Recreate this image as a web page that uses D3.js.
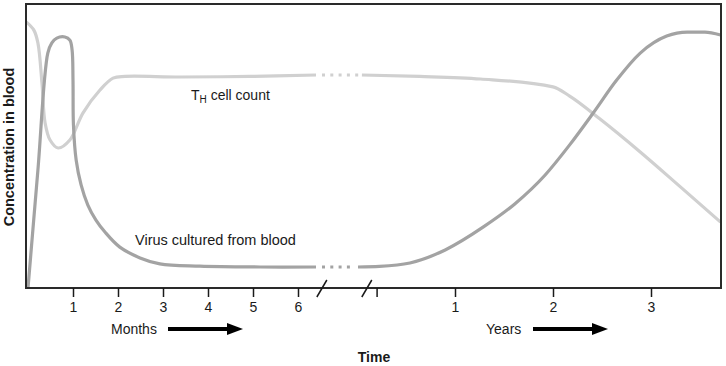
<!DOCTYPE html>
<html><head><meta charset="utf-8">
<script src="https://cdn.jsdelivr.net/npm/d3@7"></script>
<style>
html,body{margin:0;padding:0;background:#fff;}
text{font-family:"Liberation Sans",Arial,Helvetica,sans-serif;}
</style></head>
<body><svg id="chart" width="726" height="366"></svg>
<script>
// ---- data (time in months for the first segment, years for the second; concentration 0-100) ----
const monthTicks = [1, 2, 3, 4, 5, 6];
const yearTicks = [0.2, 1, 2, 3];
const yearTickLabels = ["", "1", "2", "3"];
const breakMarks = { month: 6.53, year: 0.1 };

const thMonths = [[-0.04,93.7],[0.13,90.8],[0.22,86.3],[0.31,72.2],[0.38,58.1],[0.49,52.1],[0.67,49.3],
  [0.93,52.1],[1.22,61.6],[1.6,69.7],[1.89,73.9],[2.16,74.5],[3.38,74.3],[4.93,74.5],[6.4,75]];
const thYears = [[0.05,75],[0.64,74.5],[1.26,73.6],[2.0,70.8],[2.17,67.6],[2.48,59.5],[2.89,47.9],[3.3,35.6],[3.71,23.2]];

const virusMonths = [[0,0],[0.22,41.5],[0.44,82.7],[0.53,86.3],[0.64,88.0],[0.82,88.4],[0.93,87.3],[0.98,83.8],
  [1.0,73.2],[1.01,57.4],[1.07,45.1],[1.18,36.3],[1.33,29.2],[1.51,23.9],[1.71,19.7],[2.04,14.4],[2.49,10.6],
  [2.93,8.5],[3.82,7.7],[5.16,7.4],[6.4,7.4]];
const virusYears = [[0.01,7.4],[0.23,7.6],[0.54,8.8],[0.9,13.4],[1.29,21.5],[1.61,29.6],[1.92,39.8],[2.17,50.4],
  [2.41,61.6],[2.65,73.2],[2.89,82.7],[3.16,88.7],[3.37,90.1],[3.55,90.1],[3.71,89.1]];

const labels = { th: "T", thSub: "H", thRest: " cell count", virus: "Virus cultured from blood",
  months: "Months", years: "Years", x: "Time", y: "Concentration in blood" };

// ---- layout ----
const svg = d3.select("#chart");
const P = { left: 26, top: 4, right: 721, bottom: 288 };
const xM = d3.scaleLinear().domain([0, 6]).range([28, 298]);
const xY = d3.scaleLinear().domain([1, 3]).range([455, 651]);
const y = d3.scaleLinear().domain([0, 100]).range([288, 4]);

const thColor = "#d0d0d0", virusColor = "#a3a3a3", ink = "#1a1a1a";

svg.append("defs").append("clipPath").attr("id", "clip")
  .append("rect").attr("x", P.left).attr("y", P.top).attr("width", P.right - P.left).attr("height", P.bottom - P.top);

const g = svg.append("g").attr("clip-path", "url(#clip)");
const lineM = d3.line().x(d => xM(d[0])).y(d => y(d[1])).curve(d3.curveCatmullRom.alpha(0.5));
const lineY = d3.line().x(d => xY(d[0])).y(d => y(d[1])).curve(d3.curveMonotoneX);

function series(mData, yData, color) {
  g.append("path").attr("d", lineM(mData)).attr("fill", "none").attr("stroke", color).attr("stroke-width", 3.2).attr("stroke-linecap", "butt");
  g.append("path").attr("d", lineY(yData)).attr("fill", "none").attr("stroke", color).attr("stroke-width", 3.2);
  const a = mData[mData.length - 1], b = yData[0];
  g.append("line").attr("x1", xM(a[0]) + 6).attr("y1", y(a[1])).attr("x2", xY(b[0]) - 3).attr("y2", y(b[1]))
    .attr("stroke", color).attr("stroke-width", 3.2).attr("stroke-dasharray", "3,5.3");
}
series(thMonths, thYears, thColor);
series(virusMonths, virusYears, virusColor);

// frame
svg.append("rect").attr("x", P.left).attr("y", P.top).attr("width", P.right - P.left).attr("height", P.bottom - P.top)
  .attr("fill", "none").attr("stroke", "#2a2a2a").attr("stroke-width", 2);

// axes
function styleAxis(sel) {
  sel.select(".domain").remove();
  sel.selectAll(".tick line").attr("stroke", ink).attr("stroke-width", 1.5);
  sel.selectAll(".tick text").attr("fill", ink).attr("font-size", 14).attr("font-family", "Liberation Sans, Arial, sans-serif");
}
svg.append("g").attr("transform", `translate(0,${P.bottom})`)
  .call(d3.axisBottom(xM).tickValues(monthTicks).tickSize(9).tickPadding(5).tickFormat(d3.format("d")))
  .call(styleAxis);
svg.append("g").attr("transform", `translate(0,${P.bottom})`)
  .call(d3.axisBottom(xY).tickValues(yearTicks).tickSize(9).tickPadding(5).tickFormat((d, i) => yearTickLabels[i]))
  .call(styleAxis);

// axis break slashes
[xM(breakMarks.month), xY(breakMarks.year)].forEach(cx => {
  svg.append("line").attr("x1", cx - 5).attr("y1", P.bottom + 9).attr("x2", cx + 5).attr("y2", P.bottom - 8)
    .attr("stroke", ink).attr("stroke-width", 1.5);
});

// series labels
const th = svg.append("text").attr("x", 191).attr("y", 100).attr("font-size", 14).attr("fill", ink);
th.append("tspan").text(labels.th);
th.append("tspan").attr("font-size", 10).attr("dy", 3).text(labels.thSub);
th.append("tspan").attr("dy", -3).text(labels.thRest);
svg.append("text").attr("x", 135).attr("y", 245).attr("font-size", 14.5).attr("fill", ink).text(labels.virus);

// unit labels with arrows
function unit(txt, tx, ax1, ax2, yy) {
  svg.append("text").attr("x", tx).attr("y", yy + 5).attr("font-size", 14).attr("fill", ink).text(txt);
  svg.append("line").attr("x1", ax1).attr("y1", yy).attr("x2", ax2 - 12).attr("y2", yy).attr("stroke", "#000").attr("stroke-width", 4);
  svg.append("path").attr("d", `M${ax2 - 16},${yy - 6}L${ax2},${yy}L${ax2 - 16},${yy + 6}Z`).attr("fill", "#000");
}
unit(labels.months, 111, 168, 243, 329);
unit(labels.years, 486, 533, 608, 329);

// axis titles
svg.append("text").attr("x", 374).attr("y", 362).attr("text-anchor", "middle").attr("font-size", 14).attr("font-weight", "bold").attr("fill", ink).text(labels.x);
svg.append("text").attr("transform", "translate(14,147) rotate(-90)").attr("text-anchor", "middle")
  .attr("font-size", 14.5).attr("font-weight", "bold").attr("fill", ink).text(labels.y);
</script></body></html>
